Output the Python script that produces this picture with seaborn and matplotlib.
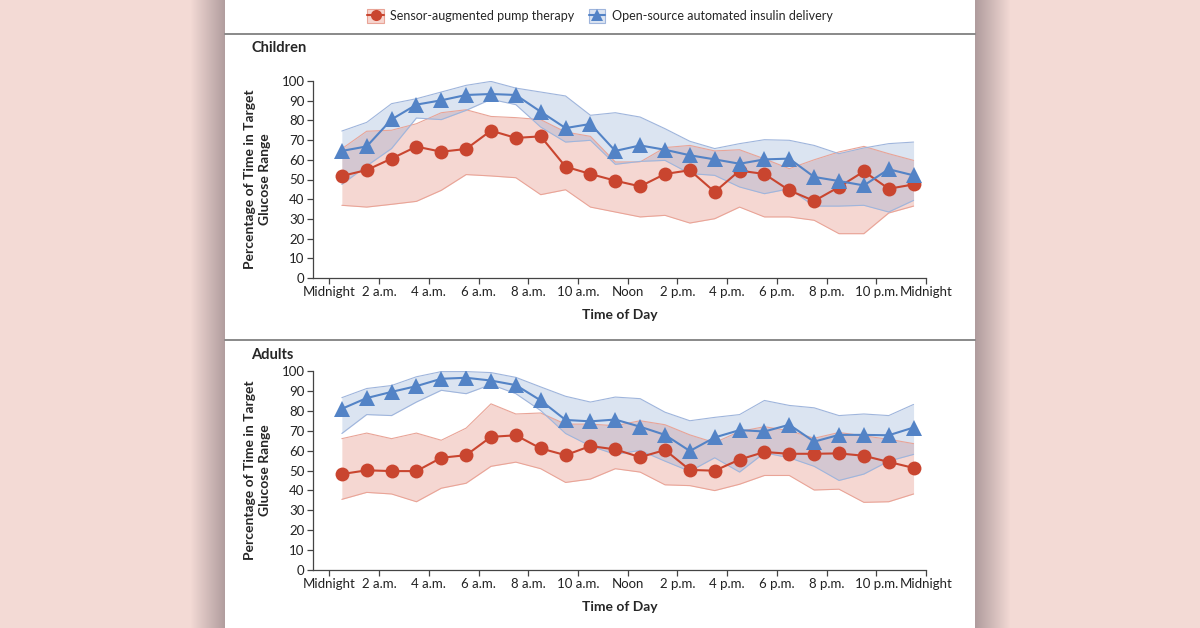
import numpy as np
import pandas as pd
import matplotlib
matplotlib.use("Agg")
import matplotlib.pyplot as plt
from matplotlib.lines import Line2D
from matplotlib.patches import Patch
import seaborn as sns

# hour of day at the middle of each 1-hour bin
hours = [0.5, 1.5, 2.5, 3.5, 4.5, 5.5, 6.5, 7.5, 8.5, 9.5, 10.5, 11.5,
         12.5, 13.5, 14.5, 15.5, 16.5, 17.5, 18.5, 19.5, 20.5, 21.5, 22.5, 23.5]

tick_hours = [0, 2, 4, 6, 8, 10, 12, 14, 16, 18, 20, 22, 24]
tick_labels = ["Midnight", "2 a.m.", "4 a.m.", "6 a.m.", "8 a.m.", "10 a.m.", "Noon",
               "2 p.m.", "4 p.m.", "6 p.m.", "8 p.m.", "10 p.m.", "Midnight"]

# Children - sensor-augmented pump therapy
child_sap = [51.8, 54.8, 60.6, 66.7, 64.1, 65.5, 74.8, 71.1, 71.9, 56.5, 52.8, 49.4,
             46.5, 52.8, 54.7, 43.7, 54.5, 52.8, 44.5, 39.1, 46.2, 54.1, 45.3, 47.5]
child_sap_hi = [65.6, 74.5, 75.0, 78.3, 83.9, 85.4, 82.0, 81.4, 80.4, 74.1, 71.9, 58.9,
                58.9, 66.2, 67.3, 64.5, 65.1, 60.5, 55.5, 60.0, 64.0, 66.8, 63.1, 59.7]
child_sap_lo = [36.9, 36.0, 37.4, 38.9, 44.5, 52.5, 51.8, 50.9, 42.3, 44.8, 36.0, 33.5,
                31.0, 31.8, 27.9, 30.1, 36.0, 31.0, 31.0, 29.3, 22.5, 22.5, 33.0, 36.5]

# Children - open-source automated insulin delivery
child_aid = [64.5, 66.8, 80.5, 88.0, 90.2, 92.9, 93.4, 92.9, 84.4, 76.1, 78.2, 64.5,
             67.3, 65.1, 62.3, 60.2, 58.0, 60.2, 60.6, 51.3, 49.2, 47.0, 55.2, 52.1]
child_aid_hi = [74.6, 79.0, 88.5, 91.0, 94.4, 97.8, 99.8, 96.4, 94.4, 92.4, 82.6, 83.9,
                81.7, 75.8, 69.4, 65.7, 68.2, 70.2, 69.9, 67.3, 63.1, 66.0, 68.2, 69.0]
child_aid_lo = [47.5, 56.9, 65.7, 81.2, 80.4, 85.1, 90.7, 88.0, 76.6, 69.0, 69.9, 57.7,
                59.2, 59.7, 53.0, 52.1, 46.2, 42.8, 45.3, 36.5, 36.5, 36.9, 33.5, 39.4]

# Adults - sensor-augmented pump therapy
adult_sap = [48.2, 50.1, 49.7, 49.7, 56.4, 57.7, 66.9, 67.7, 61.1, 57.7, 62.3, 60.6,
             56.7, 60.3, 50.3, 49.9, 55.5, 59.3, 58.4, 58.4, 58.6, 57.4, 54.3, 51.3]
adult_sap_hi = [66.0, 68.8, 66.0, 68.8, 65.2, 71.3, 83.5, 78.4, 78.9, 73.3, 73.3, 72.5,
                75.0, 73.0, 67.9, 64.0, 69.6, 72.0, 70.0, 66.2, 69.1, 67.4, 65.7, 63.5]
adult_sap_lo = [35.5, 39.0, 38.2, 34.3, 41.1, 43.6, 52.1, 54.2, 50.9, 44.0, 45.7, 50.9,
                49.2, 42.8, 42.4, 39.9, 43.1, 47.5, 47.5, 40.2, 40.6, 34.0, 34.3, 38.2]

# Adults - open-source automated insulin delivery
adult_aid = [81.0, 86.4, 89.5, 92.4, 96.1, 96.6, 95.2, 92.9, 85.2, 75.4, 74.7, 75.6,
             72.0, 67.9, 59.8, 66.6, 70.3, 69.6, 73.0, 64.5, 67.9, 67.9, 67.7, 71.6]
adult_aid_hi = [86.6, 91.2, 92.7, 97.1, 99.7, 99.7, 99.2, 96.8, 92.0, 87.3, 84.4, 86.9,
                86.1, 79.3, 75.0, 76.7, 78.1, 85.2, 82.7, 81.5, 77.6, 78.4, 77.6, 83.2]
adult_aid_lo = [68.6, 78.1, 77.6, 84.4, 90.3, 88.6, 93.2, 88.6, 80.1, 68.6, 62.3, 58.1,
                60.1, 54.7, 49.6, 56.4, 49.2, 58.9, 56.4, 52.1, 45.0, 48.2, 54.7, 58.1]

RED = "#c9452f"
BLUE = "#5383c6"
RED_FILL = "#e38f80"
BLUE_FILL = "#7f9fd0"
AXIS_C = "#444444"

sns.set_style("ticks")
plt.rcParams["font.family"] = ["Lato", "DejaVu Sans"]

fig = plt.figure(figsize=(12, 6.28), dpi=100)
fig.patch.set_facecolor("#f3dad5")

# background: pink page, grey shadow, white panel
W = 1200
pink = np.array([243, 218, 213]) / 255
shade = np.array([176, 156, 157]) / 255
row = np.tile(pink, (W, 1))
for x in range(W):
    if 190 <= x < 225:
        t = (x - 190) / 35
        row[x] = pink * (1 - t) + shade * t
    elif 225 <= x < 975:
        row[x] = 1.0
    elif 975 <= x < 1010:
        t = (1010 - x) / 35
        row[x] = pink * (1 - t) + shade * t
bg = fig.add_axes([0, 0, 1, 1], zorder=-10)
bg.imshow(row[np.newaxis, :, :], aspect="auto", extent=[0, 1, 0, 1])
bg.set_axis_off()

# separator lines
for yy in [34, 340]:
    fig.add_artist(Line2D([225 / 1200, 975 / 1200], [1 - yy / 628] * 2,
                          color="#808080", lw=1.3))

panels = [
    ("Children", [313 / 1200, 1 - 278 / 628, 613 / 1200, 197 / 628], 48,
     child_sap, child_sap_lo, child_sap_hi, child_aid, child_aid_lo, child_aid_hi),
    ("Adults", [313 / 1200, 1 - 570 / 628, 613 / 1200, 199 / 628], 355,
     adult_sap, adult_sap_lo, adult_sap_hi, adult_aid, adult_aid_lo, adult_aid_hi),
]

for name, rect, title_y, sap, sap_lo, sap_hi, aid, aid_lo, aid_hi in panels:
    ax = fig.add_axes(rect)
    ax.set_facecolor("none")
    ax.fill_between(hours, sap_lo, sap_hi, color=RED_FILL, alpha=0.35, lw=0)
    ax.plot(hours, sap_lo, color="#e9a497", lw=0.8)
    ax.plot(hours, sap_hi, color="#e9a497", lw=0.8)
    ax.fill_between(hours, aid_lo, aid_hi, color=BLUE_FILL, alpha=0.28, lw=0)
    ax.plot(hours, aid_lo, color="#9fb5dc", lw=0.8)
    ax.plot(hours, aid_hi, color="#9fb5dc", lw=0.8)

    df = pd.DataFrame({"hour": hours, "sap": sap, "aid": aid})
    sns.lineplot(data=df, x="hour", y="sap", ax=ax, color=RED, lw=1.5,
                 marker="o", markersize=10, markeredgewidth=0)
    sns.lineplot(data=df, x="hour", y="aid", ax=ax, color=BLUE, lw=1.5,
                 marker="^", markersize=11, markeredgewidth=0)

    ax.set_xlim(-0.66, 24)
    ax.set_ylim(0, 100)
    ax.set_xticks(tick_hours)
    ax.set_xticklabels(tick_labels)
    ax.set_yticks(range(0, 101, 10))
    ax.tick_params(axis="both", labelsize=9.5, colors=AXIS_C, length=4,
                   width=0.9, labelcolor="#222222", pad=2)
    for s in ["top", "right"]:
        ax.spines[s].set_visible(False)
    for s in ["left", "bottom"]:
        ax.spines[s].set_color(AXIS_C)
        ax.spines[s].set_linewidth(0.9)

    ax.set_xlabel("Time of Day", fontsize=10, fontweight="bold", labelpad=8)
    ax.set_ylabel("Percentage of Time in Target\nGlucose Range", fontsize=10,
                  fontweight="bold", linespacing=1.3)
    ax.yaxis.set_label_coords(-0.068, 0.5)
    fig.text(251 / 1200, 1 - title_y / 628, name, fontsize=10.5,
             fontweight="bold", va="center", ha="left")

handles = [
    (Patch(facecolor="#f6d5cf", edgecolor="#e9a497", lw=0.8),
     Line2D([], [], color=RED, marker="o", markersize=8, markeredgewidth=0, lw=1.5)),
    (Patch(facecolor="#dbe4f2", edgecolor="#9fb5dc", lw=0.8),
     Line2D([], [], color=BLUE, marker="^", markersize=9, markeredgewidth=0, lw=1.5)),
]
fig.legend(handles, ["Sensor-augmented pump therapy", "Open-source automated insulin delivery"],
           loc="center", bbox_to_anchor=(0.5, 1 - 16 / 628), ncol=2, frameon=False,
           fontsize=9, handlelength=1.3, handleheight=1.3, handletextpad=0.5,
           columnspacing=1.2)

fig.savefig("out.png", dpi=100)
